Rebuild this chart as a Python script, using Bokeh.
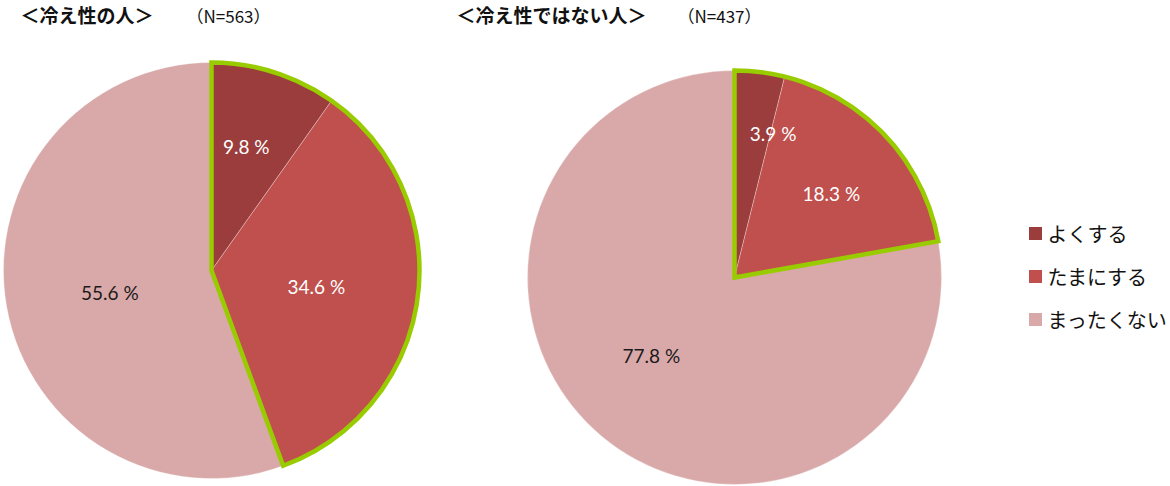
import math
from bokeh.plotting import figure
from bokeh.models import Range1d, ColumnDataSource
from bokeh.core.properties import value
from bokeh.embed import file_html
from bokeh.resources import INLINE

# ---- data ----
categories = ["よくする", "たまにする", "まったくない"]
left_values = [9.8, 34.6, 55.6]
right_values = [3.9, 18.3, 77.8]
left_title = "＜冷え性の人＞"
left_n = "（N=563）"
right_title = "＜冷え性ではない人＞"
right_n = "（N=437）"

colors = ["#9B3D3C", "#C0504D", "#D9A9A9"]
label_colors = ["white", "white", "#1a1a1a"]
green = "#99CC00"

W, H = 1170, 486
# data coords: x = reference pixel x, y = 486 - reference pixel y
p = figure(width=W, height=H, output_backend="svg", toolbar_location=None,
           x_range=Range1d(0, W), y_range=Range1d(486 - H, 486),
           min_border=0, x_axis_location=None, y_axis_location=None)
p.grid.visible = False
p.outline_line_color = None
p.background_fill_color = "white"


def Y(y):
    return 486 - y


def draw_pie(cx, cy, r, vals, label_r, label_da, highlight_n):
    total = sum(vals)
    cum = [0.0]
    for v in vals:
        cum.append(cum[-1] + v / total)
    starts = [math.pi / 2 - 2 * math.pi * cum[i + 1] for i in range(len(vals))]
    ends = [math.pi / 2 - 2 * math.pi * cum[i] for i in range(len(vals))]
    src = ColumnDataSource(dict(x=[cx] * len(vals), y=[Y(cy)] * len(vals),
                                s=starts, e=ends, c=colors))
    p.wedge(x="x", y="y", radius=r, start_angle="s", end_angle="e",
            fill_color="c", line_color="white", line_width=0.6, line_alpha=0.5,
            source=src)
    # highlight outline
    hs = math.pi / 2 - 2 * math.pi * cum[highlight_n]
    p.wedge(x=cx, y=Y(cy), radius=r, start_angle=hs, end_angle=math.pi / 2,
            fill_color=None, line_color=green, line_width=4.5, line_join="miter")
    # labels
    lx, ly, lt = [], [], []
    for i, v in enumerate(vals):
        mid = (cum[i] + cum[i + 1]) / 2 * 360 + label_da[i]
        a = math.radians(mid)
        lx.append(cx + r * label_r[i] * math.sin(a))
        ly.append(Y(cy) + r * label_r[i] * math.cos(a))
        lt.append(f"{v:.1f} %")
    p.text(x=lx, y=ly, text=lt, text_color=label_colors, text_align="center",
           text_baseline="middle", text_font=value("Lato"), text_font_size="19px")


draw_pie(211, 270, 208, left_values, [0.62, 0.51, 0.5], [-2, 1, -2], 2)
draw_pie(734, 277, 207, right_values, [0.72, 0.62, 0.55], [8, 2, 7], 2)

# titles
p.text(x=[20, 456], y=[Y(14), Y(14)], text=[left_title, right_title],
       text_font=value("Noto Sans CJK JP"), text_font_style="bold",
       text_font_size="19px", text_baseline="middle", text_color="#111111")
p.text(x=[186, 677], y=[Y(15), Y(15)], text=[left_n, right_n],
       text_font=value("Noto Sans CJK JP"), text_font_size="17px",
       text_baseline="middle", text_color="#111111")

# legend
ly = [Y(233), Y(276), Y(319)]
p.scatter(x=[1035] * 3, y=ly, marker="square", size=13, fill_color=colors,
          line_color=None)
p.text(x=[1047] * 3, y=ly, text=categories, text_font=value("Noto Sans CJK JP"),
       text_font_size="20px", text_baseline="middle", text_color="#111111")

open("out.html", "w").write(file_html(p, INLINE))
